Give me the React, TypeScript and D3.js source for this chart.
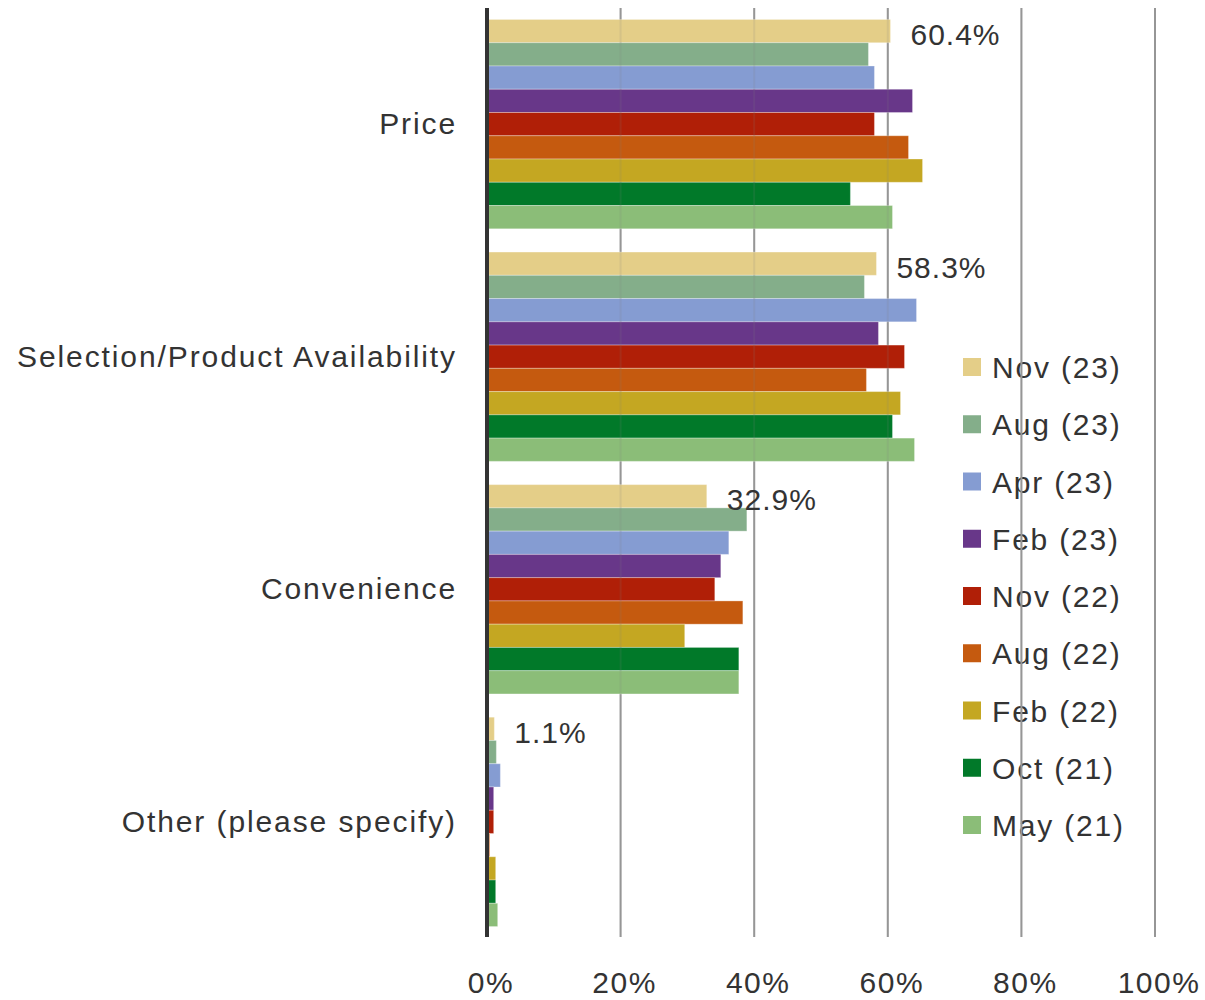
import React from "react";
import * as d3 from "d3";

const categories = ["Price", "Selection/Product Availability", "Convenience", "Other (please specify)"];
const seriesNames = ["Nov (23)", "Aug (23)", "Apr (23)", "Feb (23)", "Nov (22)", "Aug (22)", "Feb (22)", "Oct (21)", "May (21)"];
const seriesColors = ["#E4CE88", "#84AE8A", "#859CD2", "#683789", "#B01F07", "#C55A0F", "#C4A722", "#017929", "#8BBD78"];
// values per series, in category order
const nov23 = [60.4, 58.3, 32.9, 1.1];
const aug23 = [57.1, 56.5, 38.9, 1.4];
const apr23 = [58.0, 64.3, 36.2, 2.0];
const feb23 = [63.7, 58.6, 35.0, 1.0];
const nov22 = [58.0, 62.5, 34.1, 1.0];
const aug22 = [63.1, 56.8, 38.3, 0.4];
const feb22 = [65.2, 61.9, 29.6, 1.3];
const oct21 = [54.4, 60.7, 37.7, 1.3];
const may21 = [60.7, 64.0, 37.7, 1.6];
const seriesValues = [nov23, aug23, apr23, feb23, nov22, aug22, feb22, oct21, may21];
const labelledSeries = 0;
const xTicks = [0, 20, 40, 60, 80, 100];

const W = 1205;
const H = 1000;
const FONT = "'Liberation Sans', Arial, sans-serif";
const TEXT = "#333333";

export default function App() {
  const x = d3.scaleLinear().domain([0, 100]).range([487, 1155]);
  const y = d3.scaleBand<string>().domain(categories).range([9, 937]).paddingInner(0.1).paddingOuter(0.045);
  const yi = d3.scaleBand<string>().domain(seriesNames).range([0, y.bandwidth()]);
  const legendY = d3.scalePoint<string>().domain(seriesNames).range([367, 825]);
  const grid = xTicks.filter((t) => t > 0);

  return (
    <svg width={W} height={H} style={{ position: "absolute", left: 0, top: 0, background: "#fff" }}>
      {/* legend (under gridlines) */}
      <g>
        {seriesNames.map((s, i) => (
          <g key={s}>
            <rect x={963} y={(legendY(s) as number) - 9} width={18} height={18} fill={seriesColors[i]} />
            <text x={992} y={(legendY(s) as number) + 11} fontFamily={FONT} fontSize={30} fill={TEXT} letterSpacing={1.8}>
              {s}
            </text>
          </g>
        ))}
      </g>
      {/* gridlines */}
      <g>
        {grid.map((t) => (
          <line key={t} x1={x(t)} x2={x(t)} y1={8} y2={937} stroke="#9a9a9a" strokeWidth={2} />
        ))}
      </g>
      {/* bars */}
      <g>
        {categories.map((c, ci) => (
          <g key={c} transform={`translate(0,${y(c)})`}>
            {seriesNames.map((s, si) => (
              <rect
                key={s}
                x={x(0)}
                y={yi(s)}
                width={Math.max(0, x(seriesValues[si][ci]) - x(0))}
                height={yi.bandwidth()}
                fill={seriesColors[si]}
                stroke="#ffffff"
                strokeOpacity={0.3}
                strokeWidth={1}
              />
            ))}
          </g>
        ))}
      </g>
      {/* faint gridlines seen through bars */}
      <g>
        {grid.map((t) => (
          <line key={t} x1={x(t)} x2={x(t)} y1={8} y2={937} stroke="#808080" strokeOpacity={0.15} strokeWidth={2} />
        ))}
      </g>
      {/* axis line */}
      <line x1={x(0)} x2={x(0)} y1={8} y2={937} stroke="#333333" strokeWidth={4} />
      {/* data labels */}
      <g>
        {categories.map((c, ci) => {
          const v = seriesValues[labelledSeries][ci];
          const cy = (y(c) as number) + (yi(seriesNames[labelledSeries]) as number) + yi.bandwidth() / 2;
          return (
            <text key={c} x={x(v) + 20} y={cy + 14} fontFamily={FONT} fontSize={30} fill={TEXT} letterSpacing={1}>
              {v.toFixed(1)}%
            </text>
          );
        })}
      </g>
      {/* category labels */}
      <g>
        {categories.map((c) => (
          <text
            key={c}
            x={457}
            y={(y(c) as number) + y.bandwidth() / 2 + 10}
            textAnchor="end"
            fontFamily={FONT}
            fontSize={30}
            fill={TEXT}
            letterSpacing={1.9}
          >
            {c}
          </text>
        ))}
      </g>
      {/* x tick labels */}
      <g>
        {xTicks.map((t) => (
          <text key={t} x={x(t) + 4} y={993} textAnchor="middle" fontFamily={FONT} fontSize={30} fill={TEXT} letterSpacing={1.5}>
            {t}%
          </text>
        ))}
      </g>
    </svg>
  );
}
